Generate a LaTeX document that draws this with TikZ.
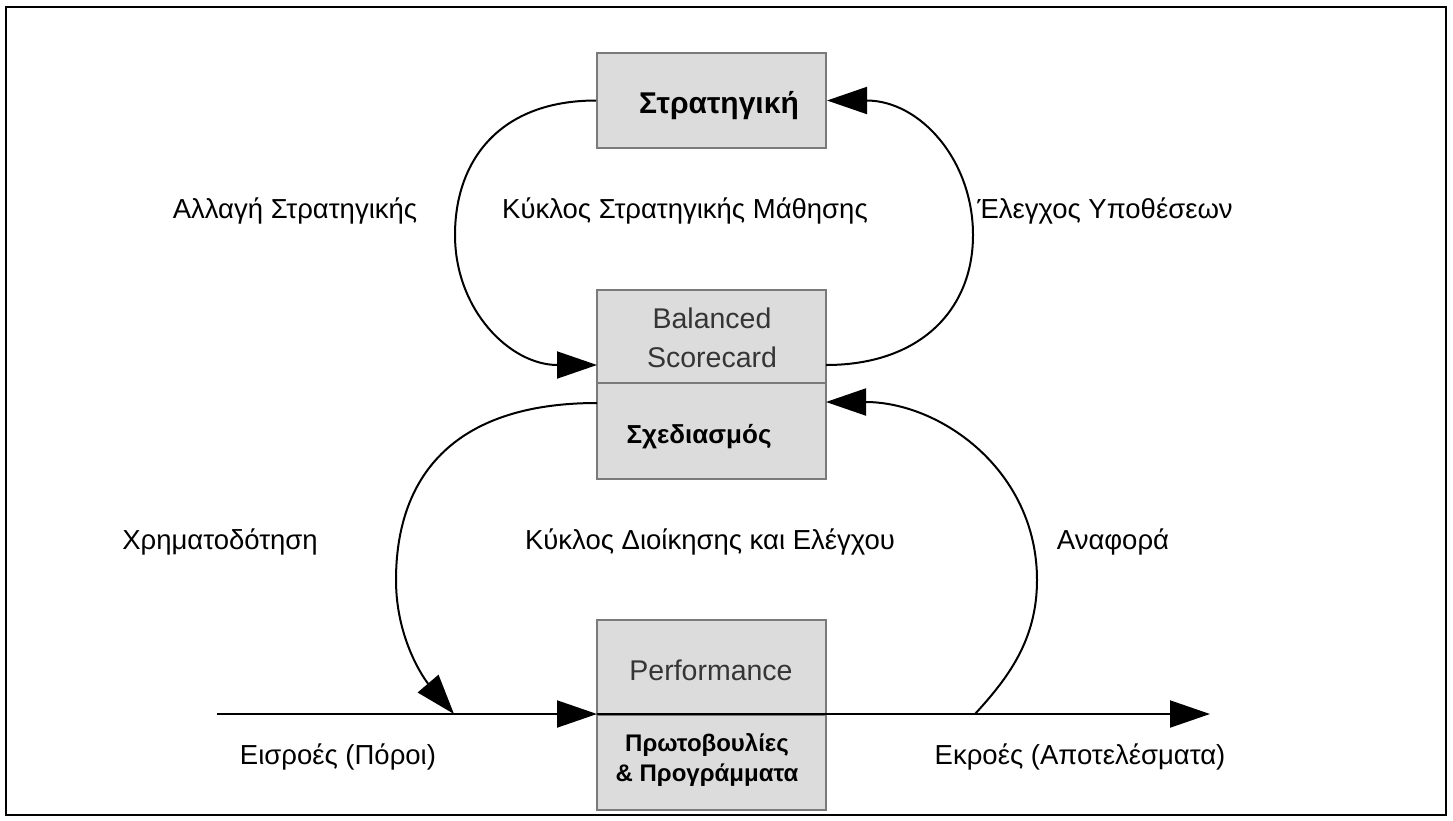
\documentclass[tikz,border=0pt]{standalone}
\usepackage{fontspec}
\setmainfont{Liberation Sans}
\usetikzlibrary{arrows.meta,calc}
\definecolor{boxfill}{HTML}{DCDCDC}
\definecolor{boxline}{HTML}{7A7A7A}
\definecolor{softtext}{HTML}{353535}
\begin{document}
\begin{tikzpicture}[x=1pt,y=-1pt,
  panel/.style={draw=boxline, fill=boxfill, line width=2pt, minimum width=229pt, inner sep=0pt},
  flow/.style={line width=2pt, -{Triangle[length=40pt,width=27pt]}},
  caption/.style={font=\fontsize{27.5}{32}\selectfont, inner sep=0pt, anchor=base},
  boxtitle/.style={font=\fontsize{30}{34}\selectfont\bfseries, inner sep=0pt, anchor=base},
  boxsub/.style={font=\fontsize{26}{30}\selectfont\bfseries, inner sep=0pt, anchor=base, align=center},
  boxname/.style={font=\fontsize{28.5}{33}\selectfont, text=softtext, inner sep=0pt, anchor=base, align=center}]
\useasboundingbox (0,0) rectangle (1453,820);
% outer frame
\draw[line width=2.5pt] (6,7) rectangle (1446,815);

% boxes
\node[panel, minimum height=95pt] (strat) at (711.5,100.5) {};
\node[panel, minimum height=93pt] (bsTop) at (711.5,336.5) {};
\node[panel, minimum height=96pt] (bsBot) at (711.5,431) {};
\node[panel, minimum height=95pt] (perfTop) at (711.5,667.5) {};
\node[panel, minimum height=95pt] (perfBot) at (711.5,762.5) {};

% box texts
\node[boxtitle] (stratText) at (719,113) {Στρατηγική};
\node[boxname] (bsText1) at (712,328) {Balanced};
\node[boxname] (bsText2) at (712,367) {Scorecard};
\node[boxsub] (planText) at (699,443) {Σχεδιασμός};
\node[boxname] (perfText) at (711,680) {Performance};
\node[boxsub, font=\fontsize{24}{28}\selectfont\bfseries] (initText1) at (707,751) {Πρωτοβουλίες};
\node[boxsub, font=\fontsize{24}{28}\selectfont\bfseries] (initText2) at (707,781) {\& Προγράμματα};

% connector end points
\coordinate (bsIn) at (597,365);
\coordinate (bsOut) at (826,365);
\coordinate (planOut) at (597,403);
\coordinate (planIn) at (826,402);
\coordinate (inStart) at (217,714);
\coordinate (perfIn) at (597,714);
\coordinate (fundIn) at (454,714);
\coordinate (reportOut) at (975,714);
\coordinate (outEnd) at (1210,714);

% strategic learning loop
\draw[flow] (strat.west) .. controls (500,100.5) and (455,160) .. (455,235)
  .. controls (455,310) and (510,365) .. (bsIn);
\draw[flow] (bsOut) .. controls (920,365) and (973,310) .. (973,235)
  .. controls (973,160) and (920,100.5) .. (strat.east);

% management control loop
\draw[flow] (planOut) .. controls (450,403) and (396,480) .. (396,580)
  .. controls (396,640) and (425,680) .. (fundIn);
\draw[flow] (reportOut) .. controls (1008,678) and (1037,640) .. (1037,580)
  .. controls (1037,470) and (940,402) .. (planIn);

% main input / output line
\draw[flow] (inStart) -- (perfIn);
\draw[flow] (perfIn) -- (outEnd);

% labels
\node[caption] (lblChange) at (295,218) {Αλλαγή Στρατηγικής};
\node[caption] (lblLearn) at (685,218) {Κύκλος Στρατηγικής Μάθησης};
\node[caption] (lblTest) at (1105,218) {Έλεγχος Υποθέσεων};
\node[caption] (lblFund) at (220,549) {Χρηματοδότηση};
\node[caption] (lblMgmt) at (710,549) {Κύκλος Διοίκησης και Ελέγχου};
\node[caption] (lblReport) at (1113,549) {Αναφορά};
\node[caption] (lblIn) at (338,764) {Εισροές (Πόροι)};
\node[caption] (lblOut) at (1080,764) {Εκροές (Αποτελέσματα)};
\end{tikzpicture}
\end{document}
